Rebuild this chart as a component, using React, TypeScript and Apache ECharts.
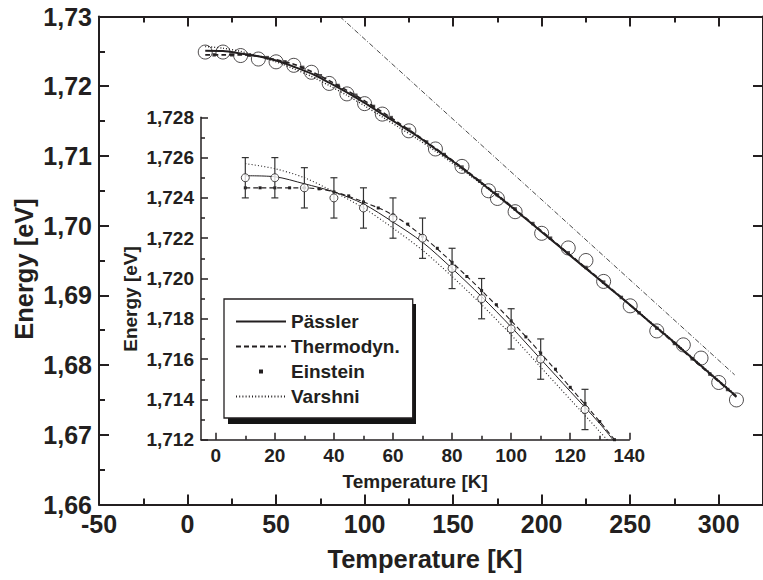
import React, { useEffect, useRef } from 'react';
import * as echarts from 'echarts';

// ---------- main plot data ----------
const mainCircleT = [10, 20, 30, 40, 50, 60, 70, 80, 90, 100, 110, 125, 140, 155, 170, 175, 185, 200, 215, 225, 235, 250, 265, 280, 290, 300, 310];
const mainCircleE = [1.7249, 1.7249, 1.7244, 1.7239, 1.7235, 1.723, 1.722, 1.7204, 1.7189, 1.7175, 1.716, 1.7136, 1.711, 1.7085, 1.705, 1.7039, 1.702, 1.6989, 1.6968, 1.695, 1.692, 1.6885, 1.6849, 1.6829, 1.681, 1.6775, 1.675];

const mainFitT = [10, 20, 30, 40, 50, 60, 70, 80, 90, 100, 110, 120, 130, 140, 150, 160, 170, 180, 190, 200, 210, 220, 230, 240, 250, 260, 270, 280, 290, 300, 310];
const mainPassler = [1.7251, 1.72505, 1.7247, 1.7243, 1.7237, 1.7228, 1.7218, 1.7205, 1.7191, 1.7176, 1.716, 1.7144, 1.7128, 1.711, 1.7092, 1.7073, 1.7053, 1.7033, 1.7012, 1.6991, 1.697, 1.6949, 1.6928, 1.6907, 1.6886, 1.6864, 1.6843, 1.6821, 1.6799, 1.6777, 1.6755];
const mainThermo = [1.7245, 1.7245, 1.7245, 1.7243, 1.7238, 1.72315, 1.7221, 1.7208, 1.7194, 1.7179, 1.7163, 1.7146, 1.7129, 1.7111, 1.7093, 1.7074, 1.7054, 1.7034, 1.7013, 1.6992, 1.6971, 1.695, 1.6929, 1.6908, 1.6886, 1.6864, 1.6842, 1.682, 1.6798, 1.6776, 1.6754];
const mainVarshni = [1.7257, 1.72545, 1.725, 1.7243, 1.7235, 1.7225, 1.7214, 1.7201, 1.7187, 1.7172, 1.7156, 1.714, 1.7124, 1.7107, 1.7089, 1.7071, 1.7052, 1.7032, 1.7012, 1.6991, 1.697, 1.6949, 1.6928, 1.6907, 1.6886, 1.6865, 1.6844, 1.6822, 1.68, 1.6778, 1.6756];
const mainEinsteinT = [15, 25, 35, 45, 55, 65, 75, 85, 95, 105, 115, 125, 135, 145, 155, 165, 175, 185, 195, 205, 215, 225, 235, 245, 255, 265, 275, 285, 295, 305];
const mainEinsteinE = [1.7245, 1.7245, 1.72445, 1.7241, 1.7235, 1.7227, 1.7215, 1.7201, 1.7187, 1.7171, 1.7155, 1.7138, 1.712, 1.7102, 1.7084, 1.7064, 1.7044, 1.7024, 1.7003, 1.6982, 1.6961, 1.694, 1.6919, 1.6897, 1.6875, 1.6853, 1.6831, 1.6809, 1.6787, 1.6765];

const asymptoteT = [86, 309];
const asymptoteE = [1.73, 1.6786];

// ---------- inset data ----------
const insetT = [10, 20, 30, 40, 50, 60, 70, 80, 90, 100, 110, 125];
const insetE = [1.725, 1.725, 1.7245, 1.724, 1.7235, 1.723, 1.722, 1.7205, 1.719, 1.7175, 1.716, 1.7135];
const insetErr = [0.001, 0.001, 0.001, 0.001, 0.001, 0.001, 0.001, 0.001, 0.001, 0.001, 0.001, 0.001];

const insetFitT = [10, 20, 30, 40, 50, 60, 70, 80, 90, 100, 110, 120, 130, 135];
const insetPassler = [1.7251, 1.72505, 1.7247, 1.7243, 1.7237, 1.7228, 1.7218, 1.7205, 1.7191, 1.7176, 1.716, 1.7144, 1.7128, 1.7119];
const insetThermo = [1.7245, 1.7245, 1.7245, 1.7243, 1.7238, 1.72315, 1.7221, 1.7208, 1.7194, 1.7179, 1.7163, 1.7146, 1.7129, 1.712];
const insetVarshni = [1.7257, 1.72545, 1.725, 1.7243, 1.7235, 1.7225, 1.7214, 1.7201, 1.7187, 1.7172, 1.7156, 1.714, 1.7124, 1.7116];
const insetEinsteinT = [10, 15, 20, 25, 30, 35, 40, 45, 50, 55, 60, 65, 70, 75, 80, 85, 90, 95, 100, 105, 110, 115, 120, 125, 130, 135];
const insetEinsteinE = [1.7245, 1.7245, 1.7245, 1.7245, 1.7245, 1.72445, 1.7243, 1.7241, 1.7238, 1.7235, 1.72315, 1.7227, 1.7221, 1.7215, 1.7208, 1.7201, 1.7194, 1.7187, 1.7179, 1.7171, 1.7163, 1.7155, 1.7146, 1.7138, 1.7129, 1.712];

// ---------- ticks ----------
const mainXMajor = [-50, 0, 50, 100, 150, 200, 250, 300];
const mainXMinor = [-25, 25, 75, 125, 175, 225, 275, 325];
const insetXMajor = [0, 20, 40, 60, 80, 100, 120, 140];
const insetXMinor = [10, 30, 50, 70, 90, 110, 130];

const legendNames = ['Pässler', 'Thermodyn.', 'Einstein', 'Varshni'];

const TXT = '#231f20';
const FONT = 'Liberation Sans, Arial, sans-serif';

const zip = (a: number[], b: number[]) => a.map((v, i) => [v, b[i]]);

export default function App() {
  const ref = useRef<HTMLDivElement>(null);
  useEffect(() => {
    document.body.style.margin = '0';
    if (!ref.current) return;
    const chart = echarts.init(ref.current, null, { renderer: 'svg' });

    const mainTick = (len: number, vals: number[]) => ({
      show: true, inside: true, length: len, customValues: vals,
      lineStyle: { color: TXT, width: 2 },
    });
    const insetTick = (len: number, vals: number[]) => ({
      show: true, inside: true, length: len, customValues: vals,
      lineStyle: { color: TXT, width: 1.5 },
    });
    const lbl = (size: number) => ({ fontSize: size, fontWeight: 'bold', fontFamily: FONT, color: TXT });

    const option: any = {
      animation: false,
      backgroundColor: '#fff',
      textStyle: { fontFamily: FONT },
      grid: [
        { left: 99, top: 16.5, width: 671, height: 488, containLabel: false },
        { left: 201, top: 117.3, width: 428.3, height: 322.4, containLabel: false },
      ],
      xAxis: [
        {
          gridIndex: 0, type: 'value', position: 'bottom', min: -50, max: 325,
          axisLine: { onZero: false, lineStyle: { color: TXT, width: 2 } },
          axisTick: mainTick(10, mainXMajor),
          axisLabel: { customValues: mainXMajor, margin: 10, lineHeight: 18, ...lbl(25) },
          splitLine: { show: false },
          name: 'Temperature [K]', nameLocation: 'middle', nameGap: 41,
          nameTextStyle: { ...lbl(25.5), padding: [0, 12, 0, 0] },
        },
        {
          gridIndex: 0, type: 'value', position: 'bottom', min: -50, max: 325,
          axisLine: { show: false, onZero: false },
          axisTick: mainTick(6, mainXMinor),
          axisLabel: { show: false }, splitLine: { show: false },
        },
        {
          gridIndex: 0, type: 'value', position: 'top', min: -50, max: 325,
          axisLine: { onZero: false, lineStyle: { color: TXT, width: 2 } },
          axisTick: mainTick(10, mainXMajor),
          axisLabel: { show: false }, splitLine: { show: false },
        },
        {
          gridIndex: 0, type: 'value', position: 'top', min: -50, max: 325,
          axisLine: { show: false, onZero: false },
          axisTick: mainTick(6, mainXMinor),
          axisLabel: { show: false }, splitLine: { show: false },
        },
        {
          gridIndex: 1, type: 'value', position: 'bottom', min: -5, max: 140,
          axisLine: { onZero: false, lineStyle: { color: TXT, width: 1.5 } },
          axisTick: insetTick(7, insetXMajor),
          axisLabel: { customValues: insetXMajor, margin: 6, ...lbl(19) },
          splitLine: { show: false },
          name: 'Temperature [K]', nameLocation: 'middle', nameGap: 32,
          nameTextStyle: { ...lbl(19) },
        },
        {
          gridIndex: 1, type: 'value', position: 'bottom', min: -5, max: 140,
          axisLine: { show: false, onZero: false },
          axisTick: insetTick(4, insetXMinor),
          axisLabel: { show: false }, splitLine: { show: false },
        },
      ],
      yAxis: [
        {
          gridIndex: 0, type: 'value', position: 'left', min: 1.66, max: 1.73, interval: 0.01,
          axisLine: { onZero: false, lineStyle: { color: TXT, width: 2 } },
          axisTick: { inside: true, length: 10, lineStyle: { color: TXT, width: 2 } },
          minorTick: { show: true, splitNumber: 2, length: 6, lineStyle: { color: TXT, width: 2 } },
          axisLabel: { margin: 7, lineHeight: 18, ...lbl(25), formatter: (v: number) => v.toFixed(2).replace('.', ',') },
          splitLine: { show: false }, minorSplitLine: { show: false },
        },
        {
          gridIndex: 0, type: 'value', position: 'right', min: 1.66, max: 1.73, interval: 0.01,
          axisLine: { onZero: false, lineStyle: { color: TXT, width: 2 } },
          axisTick: { inside: true, length: 10, lineStyle: { color: TXT, width: 2 } },
          axisLabel: { show: false }, splitLine: { show: false },
        },
        {
          gridIndex: 1, type: 'value', position: 'left', min: 1.712, max: 1.728, interval: 0.002,
          axisLine: { onZero: false, lineStyle: { color: TXT, width: 1.5 } },
          axisTick: { inside: true, length: 7, lineStyle: { color: TXT, width: 1.5 } },
          minorTick: { show: true, splitNumber: 2, length: 4, lineStyle: { color: TXT, width: 1.5 } },
          axisLabel: { margin: 7, ...lbl(19), formatter: (v: number) => v.toFixed(3).replace('.', ',') },
          splitLine: { show: false }, minorSplitLine: { show: false },
        },
      ],
      legend: {
        orient: 'vertical', left: 224, top: 299,
        padding: [13, 13, 12, 11], itemWidth: 50, itemHeight: 5, itemGap: 6,
        backgroundColor: '#fff', borderColor: TXT, borderWidth: 1.3, borderRadius: 0,
        selectedMode: false, z: 10,
        textStyle: { ...lbl(19) },
        data: [
          { name: legendNames[0], itemStyle: { opacity: 0 } },
          { name: legendNames[1], itemStyle: { opacity: 0 } },
          { name: legendNames[2], lineStyle: { opacity: 0 } },
          { name: legendNames[3], itemStyle: { opacity: 0 } },
        ],
      },
      graphic: [
        { type: 'rect', shape: { x: 228, y: 304, width: 188, height: 120 }, style: { fill: '#151515' }, z: 1, silent: true },
        {
          type: 'text', x: 24, y: 269, rotation: Math.PI / 2, z: 5,
          style: { text: 'Energy [eV]', fontSize: 25.5, fontWeight: 'bold', fontFamily: FONT, fill: TXT, align: 'center', verticalAlign: 'middle', textAlign: 'center', textVerticalAlign: 'middle' },
        },
        {
          type: 'text', x: 130.5, y: 299, rotation: Math.PI / 2, z: 5,
          style: { text: 'Energy [eV]', fontSize: 19, fontWeight: 'bold', fontFamily: FONT, fill: TXT, align: 'center', verticalAlign: 'middle', textAlign: 'center', textVerticalAlign: 'middle' },
        },
      ],
      series: [
        // ---- inset ----
        {
          name: legendNames[0], type: 'line', xAxisIndex: 4, yAxisIndex: 2, data: zip(insetFitT, insetPassler),
          smooth: 0.3, symbol: 'none', lineStyle: { color: TXT, width: 1 }, itemStyle: { color: TXT }, z: 3,
        },
        {
          name: legendNames[1], type: 'line', xAxisIndex: 4, yAxisIndex: 2, data: zip(insetFitT, insetThermo),
          smooth: 0.3, symbol: 'none', lineStyle: { color: TXT, width: 1.1, type: [5, 3] }, itemStyle: { color: TXT }, z: 3,
        },
        {
          name: legendNames[2], type: 'line', xAxisIndex: 4, yAxisIndex: 2, data: zip(insetEinsteinT, insetEinsteinE),
          symbol: 'rect', symbolSize: 3, showSymbol: true, lineStyle: { opacity: 0, width: 0 }, itemStyle: { color: TXT }, z: 3,
        },
        {
          name: legendNames[3], type: 'line', xAxisIndex: 4, yAxisIndex: 2, data: zip(insetFitT, insetVarshni),
          smooth: 0.3, symbol: 'none', lineStyle: { color: TXT, width: 1.1, type: [1, 2.2] }, itemStyle: { color: TXT }, z: 3,
        },
        {
          name: 'Error bars', type: 'custom', xAxisIndex: 4, yAxisIndex: 2, z: 4,
          dimensions: ['T', 'E', 'err'], encode: { x: 0, y: 1 },
          data: insetT.map((t, i) => [t, insetE[i], insetErr[i]]),
          renderItem: (params: any, api: any) => {
            const x = api.value(0); const y = api.value(1); const e = api.value(2);
            const top = api.coord([x, y + e]);
            const bot = api.coord([x, y - e]);
            const w = 3.5;
            const st = { stroke: '#333', lineWidth: 1.2 };
            return {
              type: 'group',
              children: [
                { type: 'line', shape: { x1: top[0], y1: top[1], x2: bot[0], y2: bot[1] }, style: st },
                { type: 'line', shape: { x1: top[0] - w, y1: top[1], x2: top[0] + w, y2: top[1] }, style: st },
                { type: 'line', shape: { x1: bot[0] - w, y1: bot[1], x2: bot[0] + w, y2: bot[1] }, style: st },
              ],
            };
          },
        },
        {
          name: 'Measured (inset)', type: 'scatter', xAxisIndex: 4, yAxisIndex: 2, data: zip(insetT, insetE),
          symbol: 'circle', symbolSize: 8, itemStyle: { color: '#fff', borderColor: TXT, borderWidth: 1 }, z: 5,
        },
        // ---- main ----
        {
          name: 'Asymptote', type: 'line', xAxisIndex: 0, yAxisIndex: 0, data: zip(asymptoteT, asymptoteE),
          symbol: 'none', lineStyle: { color: '#333', width: 0.9, type: [5, 2, 1, 2] }, z: 2,
        },
        {
          name: 'Pässler (main)', type: 'line', xAxisIndex: 0, yAxisIndex: 0, data: zip(mainFitT, mainPassler),
          smooth: 0.3, symbol: 'none', lineStyle: { color: TXT, width: 2 }, z: 2,
        },
        {
          name: 'Thermodyn. (main)', type: 'line', xAxisIndex: 0, yAxisIndex: 0, data: zip(mainFitT, mainThermo),
          smooth: 0.3, symbol: 'none', lineStyle: { color: TXT, width: 1.6, type: [5, 3] }, z: 2,
        },
        {
          name: 'Varshni (main)', type: 'line', xAxisIndex: 0, yAxisIndex: 0, data: zip(mainFitT, mainVarshni),
          smooth: 0.3, symbol: 'none', lineStyle: { color: TXT, width: 1.4, type: [1, 2] }, z: 2,
        },
        {
          name: 'Einstein (main)', type: 'scatter', xAxisIndex: 0, yAxisIndex: 0, data: zip(mainEinsteinT, mainEinsteinE),
          symbol: 'rect', symbolSize: 3.5, itemStyle: { color: TXT }, z: 2,
        },
        {
          name: 'Measured', type: 'scatter', xAxisIndex: 0, yAxisIndex: 0, data: zip(mainCircleT, mainCircleE),
          symbol: 'circle', symbolSize: 14, itemStyle: { color: 'rgba(0,0,0,0)', borderColor: TXT, borderWidth: 1 }, z: 3,
        },
      ],
    };
    chart.setOption(option);
    return () => chart.dispose();
  }, []);
  return <div ref={ref} style={{ width: 763, height: 580 }} />;
}
